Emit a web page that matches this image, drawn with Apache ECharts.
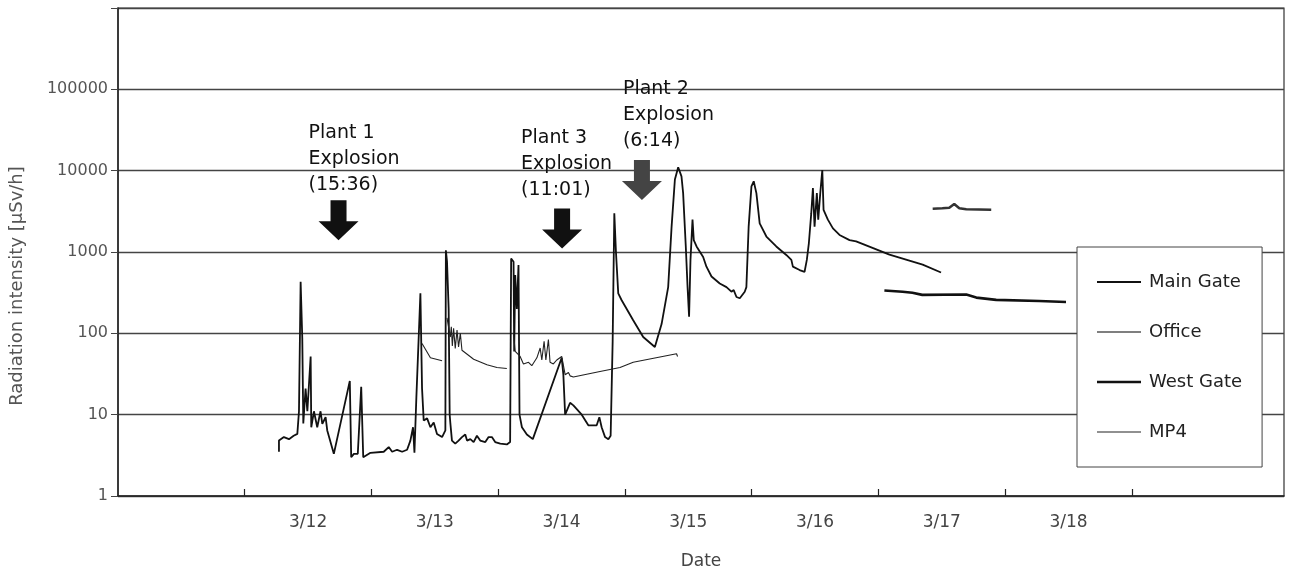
<!DOCTYPE html>
<html>
<head>
<meta charset="utf-8">
<script src="https://cdn.jsdelivr.net/npm/echarts@6/dist/echarts.min.js"></script>
<style>
html,body{margin:0;padding:0;background:#fff;}
#chart{width:1289px;height:573px;}
</style>
</head>
<body>
<div id="chart"></div>
<script>
// x values: days since 3/11 00:00 ; y values: µSv/h
const xTickLabels = ['3/12','3/13','3/14','3/15','3/16','3/17','3/18'];
const yTickValues = [1, 10, 100, 1000, 10000, 100000];

const mainGate = [
  [1.270,3.5],[1.270,4.8],[1.309,5.3],[1.349,5.0],[1.386,5.5],[1.415,5.8],[1.428,11],[1.441,430],
  [1.454,87],[1.462,7.8],[1.480,21],[1.494,11],[1.520,52],[1.525,7],[1.546,11],[1.572,7],
  [1.598,11],[1.612,7.7],[1.638,9.3],[1.651,6.4],[1.703,3.3],[1.829,26],[1.840,3.0],[1.861,3.3],
  [1.892,3.3],[1.919,22],[1.935,3.0],[1.992,3.4],[2.097,3.5],[2.136,4.0],[2.163,3.5],[2.202,3.7],
  [2.242,3.5],[2.281,3.7],[2.307,4.8],[2.328,7],[2.339,3.4],[2.354,16],[2.386,310],[2.399,21],
  [2.412,8.5],[2.439,9],[2.465,7],[2.491,8],[2.517,5.8],[2.557,5.3],[2.583,6.4],[2.587,1050],
  [2.596,760],[2.609,200],[2.617,10],[2.622,8],[2.635,4.8],[2.661,4.4],[2.687,4.8],[2.714,5.3],
  [2.740,5.7],[2.754,4.8],[2.780,5.0],[2.806,4.6],[2.832,5.5],[2.858,4.8],[2.898,4.6],[2.924,5.3],
  [2.950,5.3],[2.976,4.6],[3.016,4.4],[3.068,4.3],[3.094,4.6],[3.102,830],[3.121,760],[3.126,60],
  [3.134,520],[3.147,200],[3.160,690],[3.168,10],[3.187,7],[3.226,5.7],[3.273,5.0],[3.501,50],
  [3.514,31],[3.528,10],[3.567,14],[3.593,13],[3.659,10],[3.711,7.4],[3.777,7.4],[3.798,9.3],
  [3.816,7],[3.843,5.3],[3.869,5.0],[3.887,5.5],[3.903,80],[3.916,3000],[3.921,3000],[3.929,1000],
  [3.947,310],[3.974,255],[4.065,145],[4.144,90],[4.236,68],[4.250,70],[4.289,130],[4.341,370],
  [4.368,2050],[4.394,7800],[4.420,11000],[4.446,8500],[4.459,5300],[4.480,1170],[4.494,370],[4.506,160],
  [4.517,800],[4.533,2500],[4.543,1400],[4.565,1170],[4.617,870],[4.643,660],[4.683,500],[4.748,410],
  [4.801,370],[4.840,325],[4.858,340],[4.880,280],[4.906,270],[4.945,325],[4.958,370],[4.976,2050],
  [4.998,6400],[5.016,7400],[5.037,5300],[5.063,2250],[5.116,1550],[5.194,1170],[5.273,920],[5.313,800],
  [5.325,660],[5.378,600],[5.417,570],[5.435,800],[5.451,1280],[5.470,3000],[5.483,6100],[5.496,2050],
  [5.514,5300],[5.525,2500],[5.541,5300],[5.557,10200],[5.567,3300],[5.601,2500],[5.641,1950],[5.693,1620],
  [5.772,1400],[5.824,1350],[6.087,930],[6.349,700],[6.494,560]
];

const office = [
  [6.428,3400],[6.504,3450],[6.559,3500],[6.598,3900],[6.638,3450],[6.693,3350],[6.890,3300]
];

const westGate = [
  [6.047,336],[6.191,325],[6.268,315],[6.346,297],[6.693,300],[6.772,275],[6.929,258],[7.268,250],[7.480,243]
];

const mp4 = [
  [2.399,75],[2.465,50],[2.557,46],[null,null],
  [2.596,155],[2.622,90],[2.630,120],[2.638,70],[2.648,115],[2.661,65],[2.675,110],[2.687,68],
  [2.701,100],[2.714,62],[2.727,60],[2.806,48],[2.911,41],[2.990,38],[3.068,37],[null,null],
  [3.121,100],[3.134,60],[3.173,52],[3.199,42],[3.239,44],[3.265,40],[3.305,50],[3.331,66],
  [3.344,47],[3.362,80],[3.376,47],[3.396,84],[3.409,44],[3.435,42],[3.462,47],[3.501,52],
  [3.528,31],[3.554,33],[3.567,30],[3.593,29],[3.803,34],[3.961,38],[4.065,44],[4.407,56],[4.415,52]
];

const explosionNames = ['Plant 1','Plant 3','Plant 2'];
const explosionTimes = ['(15:36)','(11:01)','(6:14)'];
const arrowDays = [1.740, 3.504, 4.134];
const arrowValues = [2450, 1950, 7700];

// styles
const arrowColors = ['#111','#111','#444'];
const labelOffsets = [-30, -41, -19];
const labelDistances = [2, 5, 6];
const FONT = 'DejaVu Sans';
const arrowPath = 'path://M12,0 L28,0 L28,21 L40,21 L20,40 L0,21 L12,21 Z';

const markData = explosionNames.map((n, i) => ({
  coord: [arrowDays[i], arrowValues[i]],
  itemStyle: { color: arrowColors[i] },
  label: {
    show: true, position: 'top', align: 'left', offset: [labelOffsets[i], 0],
    distance: labelDistances[i],
    formatter: n + '\nExplosion\n' + explosionTimes[i],
    fontFamily: FONT, fontSize: 19, lineHeight: 26, color: '#111'
  }
}));

const legendIcons = {
  'Main Gate': 'path://M0,0H44V2H0Z',
  'Office': 'path://M0,0H44V1.4H0Z',
  'West Gate': 'path://M0,0H44V2.6H0Z',
  'MP4': 'path://M0,0H44V1.1H0Z'
};

const chart = echarts.init(document.getElementById('chart'), null, { renderer: 'canvas' });
chart.setOption({
  animation: false,
  backgroundColor: '#fff',
  grid: { left: 118, right: 5, top: 8, bottom: 77, show: true, borderColor: '#333', borderWidth: 1.2,
          backgroundColor: 'transparent', containLabel: false, outerBoundsMode: 'none' },
  legend: {
    data: Object.keys(legendIcons).map(n => ({ name: n, icon: legendIcons[n] })),
    orient: 'vertical', left: 1077, top: 247,
    backgroundColor: '#fff', borderColor: '#444', borderWidth: 1,
    padding: [26, 20, 26, 20], itemWidth: 44, itemHeight: 14, itemGap: 32,
    textStyle: { fontFamily: FONT, fontSize: 18, color: '#222', padding: [0,0,0,3] }
  },
  xAxis: {
    type: 'value', min: 0, max: 9.2,
    name: 'Date', nameLocation: 'middle', nameGap: 57,
    nameTextStyle: { fontFamily: FONT, fontSize: 17, color: '#444' },
    axisLine: { show: true, lineStyle: { color: '#222', width: 1.5 } },
    axisTick: { show: true, inside: true, length: 7, customValues: [1,2,3,4,5,6,7,8], lineStyle: { color: '#222', width: 1.2 } },
    axisLabel: {
      customValues: [1.5,2.5,3.5,4.5,5.5,6.5,7.5],
      formatter: v => xTickLabels[Math.round(v - 1.5)] || '',
      margin: 18, fontFamily: FONT, fontSize: 17, color: '#444'
    },
    splitLine: { show: false }
  },
  yAxis: {
    type: 'log', logBase: 10, min: 1, max: 1000000,
    name: 'Radiation intensity [\u03bcSv/h]', nameLocation: 'middle', nameGap: 92, nameRotate: 90,
    nameTextStyle: { fontFamily: FONT, fontSize: 18, color: '#555', padding: [0, 68, 0, 0] },
    axisLine: { show: true, lineStyle: { color: '#222', width: 1.5 } },
    axisTick: { show: true, inside: false, length: 7, lineStyle: { color: '#444' } },
    axisLabel: {
      formatter: v => (yTickValues.indexOf(v) >= 0 ? String(v) : ''),
      margin: 10, fontFamily: FONT, fontSize: 16, color: '#555'
    },
    splitLine: { show: true, lineStyle: { color: '#444', width: 1.3 } }
  },
  series: [
    {
      name: 'Main Gate', type: 'line', data: mainGate, symbol: 'none',
      lineStyle: { color: '#111', width: 1.8 }, itemStyle: { color: '#111' },
      markPoint: { symbol: arrowPath, symbolSize: [40, 40], data: markData, silent: true }
    },
    {
      name: 'Office', type: 'line', data: office, symbol: 'none',
      lineStyle: { color: '#333', width: 2.5 }, itemStyle: { color: '#555' }
    },
    {
      name: 'West Gate', type: 'line', data: westGate, symbol: 'none',
      lineStyle: { color: '#111', width: 2.6 }, itemStyle: { color: '#111' }
    },
    {
      name: 'MP4', type: 'line', data: mp4, symbol: 'none', connectNulls: false,
      lineStyle: { color: '#222', width: 1.1 }, itemStyle: { color: '#222' }
    }
  ]
});
</script>
</body>
</html>
